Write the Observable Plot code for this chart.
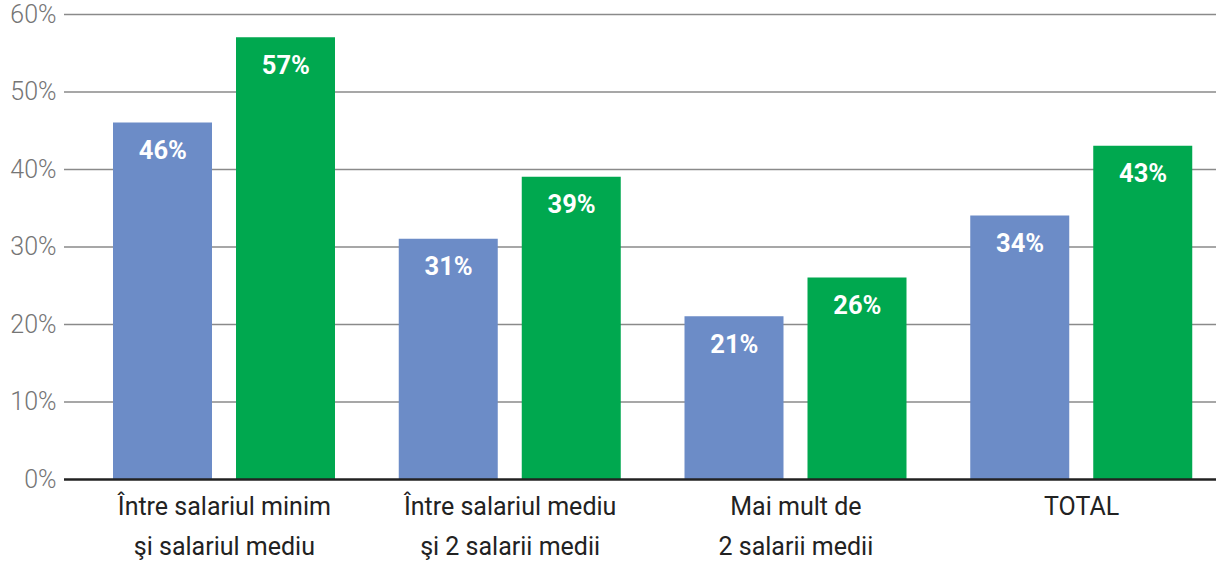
<!DOCTYPE html>
<html>
<head>
<meta charset="utf-8">
<script src="https://cdn.jsdelivr.net/npm/d3@7"></script>
<script src="https://cdn.jsdelivr.net/npm/@observablehq/plot@0.6"></script>
<style>
  html, body { margin: 0; padding: 0; background: #fff; }
  svg { display: block; }
  [aria-label^="y-axis"] text { fill: #757575; font-weight: 300; }
</style>
</head>
<body>
<div id="chart"></div>
<script>
const categories = [
  "Între salariul minim\nşi salariul mediu",
  "Între salariul mediu\nşi 2 salarii medii",
  "Mai mult de\n2 salarii medii",
  "TOTAL"
];
const seriesBlue = [46, 31, 21, 34];
const seriesGreen = [57, 39, 26, 43];
const yTicks = [0, 10, 20, 30, 40, 50, 60];

const blue = categories.map((c, i) => ({cat: c, value: seriesBlue[i]}));
const green = categories.map((c, i) => ({cat: c, value: seriesGreen[i]}));

const BLUE = "#6C8CC7";
const GREEN = "#00A84F";

const chart = Plot.plot({
  width: 1216,
  height: 562,
  marginLeft: 64,
  marginRight: 0,
  marginTop: 14,
  marginBottom: 83,
  style: {fontFamily: "Roboto, sans-serif", fontSize: "25px", background: "#fff"},
  x: {domain: categories, range: [81, 1224], padding: 0, round: false, axis: null},
  y: {domain: [0, 60], ticks: yTicks, tickFormat: d => d + "%", tickSize: 0, tickPadding: 8, label: null, grid: false},
  marks: [
    Plot.ruleY(yTicks.filter(d => d > 0), {stroke: "#8a8a8a", strokeWidth: 1.4}),
    Plot.barY(blue, {x: "cat", y: "value", fill: BLUE, insetLeft: 32, insetRight: 154.75}),
    Plot.barY(green, {x: "cat", y: "value", fill: GREEN, insetLeft: 155, insetRight: 31.75}),
    Plot.ruleY([0], {stroke: "#222", strokeWidth: 2.6}),
    Plot.text(blue, {x: "cat", y: "value", text: d => d.value + "%", dx: -61.5, dy: 28, fill: "white", fontWeight: "bold", fontSize: 25.5, lineAnchor: "middle"}),
    Plot.text(green, {x: "cat", y: "value", text: d => d.value + "%", dx: 61.5, dy: 28, fill: "white", fontWeight: "bold", fontSize: 25.5, lineAnchor: "middle"}),
    Plot.text(categories, {x: d => d, y: 0, text: d => d, lineAnchor: "top", dy: 7, lineHeight: 1.6, fill: "#222", fontSize: 25})
  ]
});
document.getElementById("chart").appendChild(chart);
</script>
</body>
</html>
